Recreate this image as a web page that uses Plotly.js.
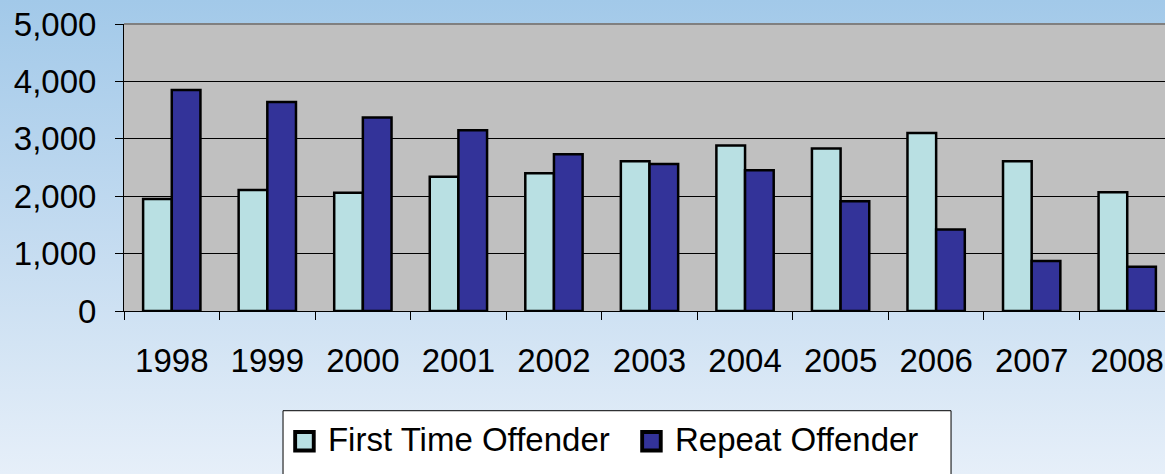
<!DOCTYPE html>
<html>
<head>
<meta charset="utf-8">
<script src="https://cdn.plot.ly/plotly-3.0.1.min.js"></script>
<style>
  html, body { margin: 0; padding: 0; width: 1165px; height: 474px; overflow: hidden;
    background: linear-gradient(to bottom, #a2c9e9 0%, #c7ddf1 55%, #e6eff9 100%); }
  #chart { width: 1180px; height: 474px; }
</style>
</head>
<body>
<div id="chart"></div>
<script>
const years = ["1998","1999","2000","2001","2002","2003","2004","2005","2006","2007","2008"];
const firstTime = [1950, 2110, 2060, 2340, 2400, 2610, 2885, 2830, 3100, 2610, 2070];
const repeat = [3850, 3640, 3370, 3150, 2730, 2560, 2450, 1910, 1420, 870, 770];
const yTicks = [0, 1000, 2000, 3000, 4000, 5000];
const yTickText = ["0", "1,000", "2,000", "3,000", "4,000", "5,000"];

const font = "Liberation Sans, Arial, sans-serif";

const traces = [
  { type: "bar", name: "First Time Offender", x: years, y: firstTime,
    marker: { color: "#b9e0e3", line: { color: "#000000", width: 2.5 } } },
  { type: "bar", name: "Repeat Offender", x: years, y: repeat,
    marker: { color: "#333399", line: { color: "#000000", width: 2.5 } } }
];

const layout = {
  width: 1180, height: 474,
  margin: { l: 124, r: 5, t: 24, b: 163 },
  paper_bgcolor: "rgba(0,0,0,0)",
  plot_bgcolor: "#c0c0c0",
  barmode: "group", bargap: 0.4, bargroupgap: 0,
  font: { family: font, color: "#000000", size: 33 },
  xaxis: {
    type: "category", tickson: "boundaries", ticks: "outside", ticklen: 8,
    tickcolor: "#000000", tickwidth: 1, showline: true, linecolor: "#000000",
    linewidth: 1, showgrid: false, ticklabelstandoff: 20,
    tickfont: { family: font, size: 33, color: "#000000" }
  },
  yaxis: {
    range: [0, 5000], tickvals: yTicks, ticktext: yTickText, ticks: "outside",
    ticklen: 8, tickcolor: "#000000", tickwidth: 1, showline: true,
    linecolor: "#000000", linewidth: 1, showgrid: true, gridcolor: "#000000",
    gridwidth: 1, zeroline: false, ticklabelstandoff: 12,
    tickfont: { family: font, size: 33, color: "#000000" }
  },
  showlegend: true,
  legend: {
    orientation: "h", x: 0.156, xanchor: "left", y: -0.346, yanchor: "top",
    bgcolor: "rgba(0,0,0,0)", borderwidth: 0,
    font: { family: font, size: 33, color: "#000000" },
    itemwidth: 30, traceorder: "normal", entrywidth: 302
  },
  shapes: [
    { type: "rect", xref: "paper", yref: "paper", x0: 0.1513, x1: 0.7869,
      y0: -0.3474, y1: -0.6, line: { color: "#000000", width: 1 }, fillcolor: "#ffffff", layer: "below" },
    { type: "line", xref: "paper", yref: "paper", x0: 0, x1: 1, y0: 1, y1: 1,
      line: { color: "#808080", width: 2 } }
  ]
};

Plotly.newPlot("chart", traces, layout, { displayModeBar: false, staticPlot: true }).then(function (gd) {
  gd.querySelectorAll(".legend [clip-path]").forEach(function (el) {
    el.removeAttribute("clip-path");
  });
  gd.querySelectorAll(".legend .legendpoints path").forEach(function (p) {
    const t = p.getAttribute("transform") || "";
    p.setAttribute("transform", t + " translate(-3.5,3) scale(1.55)");
  });
});
</script>
</body>
</html>
